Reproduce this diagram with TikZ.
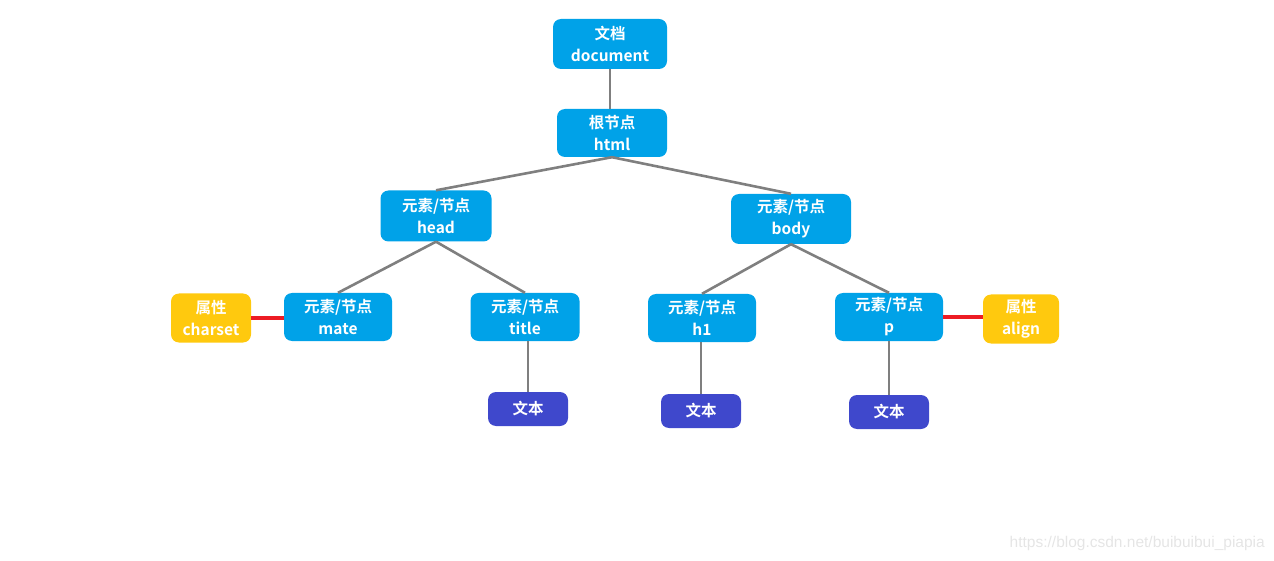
\documentclass[tikz,border=0pt]{standalone}
\usepackage{fontspec}
\setmainfont{Noto Sans CJK SC}[BoldFont={* Bold}]
\newfontfamily\wmfont{Liberation Sans}
\definecolor{nblue}{RGB}{0,162,232}
\definecolor{ngold}{RGB}{255,201,14}
\definecolor{nindigo}{RGB}{63,72,204}
\definecolor{egray}{RGB}{127,127,127}
\definecolor{ered}{RGB}{237,28,36}
\tikzset{
  box/.style={rounded corners=8pt, inner sep=0pt, text=white, align=center,
    font=\fontsize{15.5}{22}\selectfont\bfseries},
  elem/.style={box, fill=nblue, minimum width=109pt, minimum height=48pt},
  attr/.style={box, fill=ngold, minimum width=78pt, minimum height=49pt},
  txt/.style={box, fill=nindigo, minimum width=80pt, minimum height=34pt},
  edge/.style={draw=egray, line width=2.6pt},
  redge/.style={draw=ered, line width=3.2pt},
}
\begin{document}
\begin{tikzpicture}[x=1pt,y=-1pt]
\useasboundingbox (0,0) rectangle (1274,561);
\node[elem, minimum width=114pt, minimum height=50pt] (doc) at (610,44) {文档\\document};
\node[elem, minimum width=110pt] (html) at (612,133) {根节点\\html};
\node[elem, minimum width=111pt, minimum height=51pt] (head) at (436,216) {元素/节点\\head};
\node[elem, minimum width=120pt, minimum height=50pt] (body) at (791,219) {元素/节点\\body};
\node[attr, minimum width=80pt] (charset) at (211,318) {属性\\charset};
\node[elem, minimum width=108pt] (mate) at (338,317) {元素/节点\\mate};
\node[elem] (title) at (525,317) {元素/节点\\title};
\node[elem, minimum width=108pt] (h1) at (702,318) {元素/节点\\h1};
\node[elem, minimum width=108pt] (p) at (889,317) {元素/节点\\p};
\node[attr, minimum width=76pt] (align) at (1021,319) {属性\\align};
\node[txt] (t1) at (528,409) {文本};
\node[txt] (t2) at (701,411) {文本};
\node[txt] (t3) at (889,412) {文本};
\draw[edge] (doc.south) -- (html.north -| doc.south);
\draw[edge] (html.south) -- (head.north);
\draw[edge] (html.south) -- (body.north);
\draw[edge] (head.south) -- (mate.north);
\draw[edge] (head.south) -- (title.north);
\draw[edge] (body.south) -- (h1.north);
\draw[edge] (body.south) -- (p.north);
\draw[edge] (t1.north) -- (t1.north |- title.south);
\draw[edge] (t2.north) -- (t2.north |- h1.south);
\draw[edge] (t3.north) -- (t3.north |- p.south);
\draw[redge] (charset.east) -- (charset.east -| mate.west);
\draw[redge] (p.east) -- (p.east -| align.west);
\node[anchor=east, inner sep=0pt, text=black!10, font=\wmfont\fontsize{15.5}{17}\selectfont] (wm) at (1265,543) {https://blog.csdn.net/buibuibui\_piapia};
\end{tikzpicture}
\end{document}
